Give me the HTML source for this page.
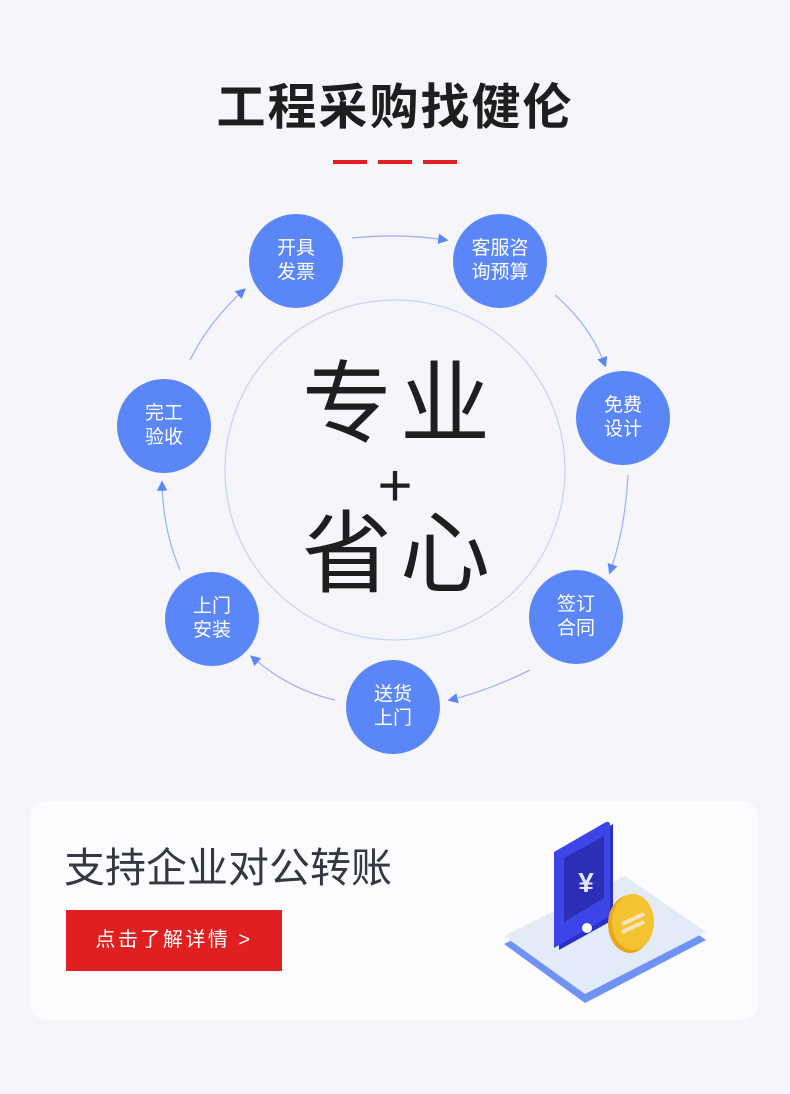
<!DOCTYPE html>
<html><head><meta charset="utf-8"><style>
body{margin:0;width:790px;height:1094px;background:#f6f6fa;position:relative;overflow:hidden;font-family:"Liberation Sans","Noto Sans CJK SC",sans-serif}
.a{position:absolute}
.c{position:absolute;width:94px;height:94px;border-radius:50%;background:#5b86f8;color:#fff;font-size:19px;line-height:24px;display:flex;align-items:center;justify-content:center;text-align:center}
</style></head><body>
<div class="a" style="left:0;top:68px;width:790px;text-align:center;font-size:49px;font-weight:bold;color:#1e1e1e;letter-spacing:2px">工程采购找健伦</div>
<div class="a" style="left:333px;top:160px;width:34px;height:4px;background:#e02020"></div>
<div class="a" style="left:378px;top:160px;width:34px;height:4px;background:#e02020"></div>
<div class="a" style="left:423px;top:160px;width:34px;height:4px;background:#e02020"></div>
<svg class="a" style="left:0;top:0" width="790" height="800">
<defs><marker id="m" markerWidth="8" markerHeight="8" refX="6" refY="4" orient="auto"><path d="M0,0 L8,4 L0,8z" fill="#5b86f8"/></marker></defs>
<circle cx="395" cy="470" r="170" fill="none" stroke="#c5d3fb" stroke-width="1.2"/>
<g fill="none" stroke="#9db4fa" stroke-width="1.3" marker-end="url(#m)">
<path d="M352,238 Q400,233 446,240"/>
<path d="M555,295 Q590,325 605,365"/>
<path d="M628,475 Q625,530 610,572"/>
<path d="M530,670 Q490,690 450,700"/>
<path d="M335,700 Q290,690 252,657"/>
<path d="M180,570 Q163,530 162,483"/>
<path d="M190,360 Q210,320 244,290"/>
</g>
</svg>
<div class="a" style="left:5px;top:350px;width:790px;text-align:center;font-size:90px;color:#1e1e1e;line-height:110px;letter-spacing:8px">专业</div>
<div class="a" style="left:0;top:451px;width:790px;text-align:center;font-size:60px;color:#1e1e1e;line-height:70px">+</div>
<div class="a" style="left:5px;top:500px;width:790px;text-align:center;font-size:90px;color:#1e1e1e;line-height:110px;letter-spacing:8px">省心</div>
<div class="c" style="left:249px;top:214px">开具<br>发票</div>
<div class="c" style="left:453px;top:214px">客服咨<br>询预算</div>
<div class="c" style="left:576px;top:371px">免费<br>设计</div>
<div class="c" style="left:529px;top:570px">签订<br>合同</div>
<div class="c" style="left:346px;top:660px">送货<br>上门</div>
<div class="c" style="left:165px;top:572px">上门<br>安装</div>
<div class="c" style="left:117px;top:379px">完工<br>验收</div>
<div class="a" style="left:30px;top:801px;width:728px;height:219px;border-radius:16px;background:#fcfcfe"></div>
<div class="a" style="left:64px;top:840px;font-size:41px;color:#333842;line-height:56px">支持企业对公转账</div>
<div class="a" style="left:66px;top:910px;width:216px;height:61px;background:#e02020;color:#fff;font-size:20px;line-height:61px;text-align:center;letter-spacing:2.5px">点击了解详情 &gt;</div>
<svg class="a" style="left:480px;top:800px" width="290" height="230">
<path d="M24,138 L145,78 L226,134 L105,197 Z" fill="#6f93f4" transform="translate(0,6)"/>
<path d="M24,136 L145,76 L226,132 L105,194 Z" fill="#e3eaf8"/>
<path d="M75,53 L129,22 L129,118 L75,148 Z" fill="#2a2fc8" transform="translate(4,2)"/>
<path d="M74,52 L126,22 Q130,21 130,25 L130,116 L74,148 Z" fill="#3d44e8"/>
<path d="M84,58 L124,36 L124,98 L84,122 Z" fill="#2c2fb5"/>
<text x="106" y="92" font-size="28" fill="#dfe8ff" text-anchor="middle" font-weight="bold">¥</text>
<circle cx="107" cy="128" r="5" fill="#fff"/>
<ellipse cx="150" cy="124" rx="22" ry="29" fill="#e8a81a"/>
<ellipse cx="153" cy="122" rx="21" ry="28" fill="#f5c232"/>
<path d="M142,124 L164,114 M142,132 L164,122" stroke="#f6e4c0" stroke-width="4"/>
</svg>
</body></html>
